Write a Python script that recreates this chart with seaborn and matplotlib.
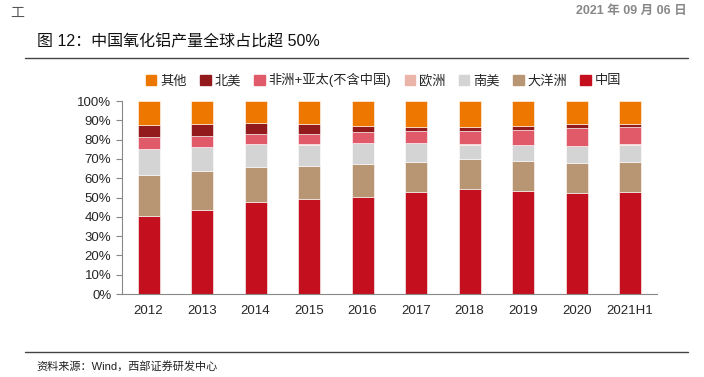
import numpy as np
import pandas as pd
import matplotlib
matplotlib.use("Agg")
import matplotlib.pyplot as plt
import seaborn as sns

# 数据（单位：%）
years = ['2012', '2013', '2014', '2015', '2016', '2017', '2018', '2019', '2020', '2021H1']
china = [40.6, 43.5, 47.8, 49.2, 50.1, 52.8, 54.2, 53.4, 52.2, 53.0]
oceania = [20.9, 20.2, 18.0, 17.1, 17.4, 15.8, 15.6, 15.7, 15.8, 15.4]
south_america = [13.6, 12.3, 11.9, 11.1, 10.6, 9.5, 7.6, 7.9, 8.5, 8.8]
europe = [0.3, 0.3, 0.3, 0.3, 0.3, 0.3, 0.3, 0.3, 0.3, 0.3]
africa_asia = [6.1, 5.4, 4.9, 5.0, 5.4, 6.1, 6.6, 7.7, 9.0, 8.9]
north_america = [6.1, 6.4, 5.9, 5.6, 3.4, 2.2, 2.1, 2.2, 2.3, 1.9]
other = [12.4, 11.9, 11.2, 11.7, 12.8, 13.3, 13.6, 12.8, 11.9, 11.7]

# 堆叠顺序（自下而上）
series = [
    ('中国', china, '#C40F1E'),
    ('大洋洲', oceania, '#B89673'),
    ('南美', south_america, '#D4D4D4'),
    ('欧洲', europe, '#EBB4A8'),
    ('非洲+亚太(不含中国)', africa_asia, '#E05A6A'),
    ('北美', north_america, '#921A1C'),
    ('其他', other, '#EE7700'),
]

sns.set_style("white")
plt.rcParams['font.family'] = ['Liberation Sans', 'Noto Sans CJK SC', 'DejaVu Sans']

fig = plt.figure(figsize=(7.04, 3.77), dpi=100)
ax = fig.add_axes([0.173, 0.220, 0.760, 0.512])

bottom = np.zeros(len(years))
handles = {}
for name, vals, color in series:
    df = pd.DataFrame({'year': years, 'val': vals})
    sns.barplot(data=df, x='year', y='val', color=color, bottom=bottom, saturation=1,
                width=0.41, edgecolor='white', linewidth=0.4, ax=ax, order=years)
    handles[name] = plt.Rectangle((0, 0), 1, 1, color=color)
    bottom = bottom + np.array(vals)

# 坐标轴
ax.set_xlim(-0.5, len(years) - 0.5)
ax.set_ylim(0, 100)
ax.set_yticks(np.arange(0, 101, 10))
ax.set_yticklabels([f'{v}%' for v in range(0, 101, 10)], fontsize=9.5)
ax.set_xlabel('')
ax.set_ylabel('')
ax.tick_params(axis='x', length=0, labelsize=9.5, pad=8)
ax.set_xticks(np.arange(-0.5, len(years), 1.0), minor=True)
ax.tick_params(axis='x', which='minor', length=4, color='#888888', direction='out')
ax.tick_params(axis='y', length=4, color='#888888', direction='out', left=True)
for s in ['top', 'right']:
    ax.spines[s].set_visible(False)
for s in ['left', 'bottom']:
    ax.spines[s].set_color('#888888')
    ax.spines[s].set_linewidth(0.8)
ax.grid(False)

# 图例
order = ['其他', '北美', '非洲+亚太(不含中国)', '欧洲', '南美', '大洋洲', '中国']
fig.legend([handles[n] for n in order], order, loc='center', bbox_to_anchor=(0.545, 0.787),
           ncol=7, frameon=False, fontsize=9.5, handlelength=0.8, handleheight=0.8,
           handletextpad=0.3, columnspacing=1.0)

# 页眉、标题、来源
fig.text(0.014, 0.965, '工', fontsize=10, color='#555555', va='center')
fig.text(0.975, 0.970, '2021 年 09 月 06 日', fontsize=9, color='#888888', ha='right', va='center',
         fontweight='bold')
fig.text(0.052, 0.888, '图 12：中国氧化铝产量全球占比超 50%', fontsize=11.5, color='#111111', va='center')
fig.add_artist(plt.Line2D([0.036, 0.977], [0.846, 0.846], color='#444444', lw=1.0))
fig.add_artist(plt.Line2D([0.036, 0.977], [0.066, 0.066], color='#444444', lw=1.0))
fig.text(0.052, 0.028, '资料来源：Wind，西部证券研发中心', fontsize=8, color='#222222', va='center')

fig.savefig('out.png', dpi=100)
